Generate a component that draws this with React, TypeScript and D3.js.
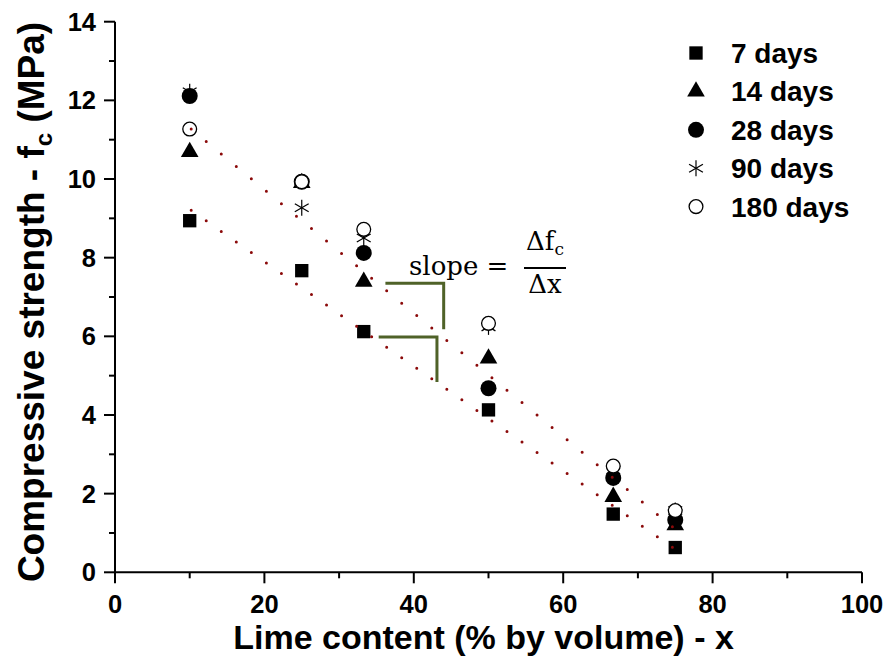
import React from "react";
import * as d3 from "d3";

// ---- data ----
const limeContent = [10, 25, 33.3, 50, 66.7, 75];
const days7 = [8.94, 7.67, 6.12, 4.13, 1.48, 0.63];
const days14 = [10.69, 9.9, 7.39, 5.44, 1.92, 1.2];
const days28 = [12.11, 9.93, 8.12, 4.68, 2.4, 1.33];
const days90 = [12.22, 9.27, 8.5, 6.24, 2.6, 1.57];
const days180 = [11.27, 9.93, 8.72, 6.33, 2.7, 1.57];
const seriesLabels = ["7 days", "14 days", "28 days", "90 days", "180 days"];
const seriesKinds = ["square", "triangle", "circle", "asterisk", "open"];
const xTicks = [0, 20, 40, 60, 80, 100];
const xMinor = [10, 30, 50, 70, 90];
const yTicks = [0, 2, 4, 6, 8, 10, 12, 14];
const yMinor = [1, 3, 5, 7, 9, 11, 13];
// dotted fit lines: lower (7 days) and upper
const trendIntercepts = [10.56, 12.87];
const trendSlopes = [-0.133, -0.157];
const trendFrom = 10.2;
const trendTo = 75;
// slope brackets: [x1, x2, yTop, yBottom]
const brackets = [
  [36.2, 44.0, 7.35, 6.18],
  [35.3, 43.1, 5.98, 4.84],
];

const W = 887;
const H = 656;
const x = d3.scaleLinear().domain([0, 100]).range([115, 862]);
const y = d3.scaleLinear().domain([0, 14]).range([572.3, 21.7]);

const FONT = "'Liberation Sans', Arial, sans-serif";
const SERIF = "'DejaVu Serif', 'Liberation Serif', serif";

function Marker({ kind, cx, cy }: { kind: string; cx: number; cy: number }) {
  const t = `translate(${cx},${cy})`;
  if (kind === "square") {
    return <path transform={t} d={d3.symbol(d3.symbolSquare, 178)()!} fill="#000" />;
  }
  if (kind === "triangle") {
    return <path transform={t} d={d3.symbol(d3.symbolTriangle, 135)()!} fill="#000" />;
  }
  if (kind === "circle") {
    return <circle cx={cx} cy={cy} r={8} fill="#000" />;
  }
  if (kind === "open") {
    return <circle cx={cx} cy={cy} r={6.9} fill="#fff" stroke="#000" strokeWidth={1.3} />;
  }
  // asterisk: 6 arms
  const r = 8;
  const angles = [90, 30, -30];
  return (
    <g transform={t} stroke="#000" strokeWidth={1.2}>
      {angles.map((a) => {
        const rad = (a * Math.PI) / 180;
        const dx = r * Math.cos(rad);
        const dy = r * Math.sin(rad);
        return <line key={a} x1={-dx} y1={-dy} x2={dx} y2={dy} />;
      })}
    </g>
  );
}

export default function App() {
  const series = [days7, days14, days28, days90, days180];
  const dotGapData = 2.013;

  return (
    <div style={{ position: "absolute", left: 0, top: 0 }}>
      <svg width={W} height={H} style={{ display: "block", background: "#fff" }}>
        {/* axes */}
        <g stroke="#000" strokeWidth={2}>
          <line x1={x(0)} x2={x(0)} y1={y(14)} y2={y(0)} />
          <line x1={x(0)} x2={x(100)} y1={y(0)} y2={y(0)} />
          {xTicks.map((t) => (
            <line key={"xt" + t} x1={x(t)} x2={x(t)} y1={y(0)} y2={y(0) + 11} />
          ))}
          {xMinor.map((t) => (
            <line key={"xm" + t} x1={x(t)} x2={x(t)} y1={y(0)} y2={y(0) + 6} />
          ))}
          {yTicks.map((t) => (
            <line key={"yt" + t} x1={x(0) - 11} x2={x(0)} y1={y(t)} y2={y(t)} />
          ))}
          {yMinor.map((t) => (
            <line key={"ym" + t} x1={x(0) - 6} x2={x(0)} y1={y(t)} y2={y(t)} />
          ))}
        </g>
        <g fontFamily={FONT} fontWeight="bold" fontSize={25.5} fill="#000">
          {xTicks.map((t) => (
            <text key={"xl" + t} x={x(t)} y={613} textAnchor="middle">
              {t}
            </text>
          ))}
          {yTicks.map((t) => (
            <text key={"yl" + t} x={96} y={y(t) + 9} textAnchor="end">
              {t}
            </text>
          ))}
        </g>
        {/* axis titles */}
        <text
          x={(x(0) + x(100)) / 2 - 5}
          y={649}
          textAnchor="middle"
          fontFamily={FONT}
          fontWeight="bold"
          fontSize={34}
        >
          Lime content (% by volume) - x
        </text>
        <text
          transform={`translate(44,${(y(0) + y(14)) / 2 + 5}) rotate(-90)`}
          textAnchor="middle"
          fontFamily={FONT}
          fontWeight="bold"
          fontSize={37}
        >
          Compressive strength - f
          <tspan fontSize={24} dy={8}>c</tspan>
          <tspan dy={-8}> (MPa)</tspan>
        </text>

        {/* markers */}
        {series.map((vals, si) => (
          <g key={"s" + si}>
            {vals.map((v, i) => (
              <Marker key={i} kind={seriesKinds[si]} cx={x(limeContent[i])} cy={y(v)} />
            ))}
          </g>
        ))}

        {/* dotted fit lines */}
        {trendIntercepts.map((b, i) => {
          const m = trendSlopes[i];
          const x1 = x(trendFrom);
          const y1 = y(b + m * trendFrom);
          const x2 = x(trendTo);
          const y2 = y(b + m * trendTo);
          const sx = x(trendFrom + dotGapData) - x(trendFrom);
          const sy = y(b + m * (trendFrom + dotGapData)) - y1;
          const step = Math.sqrt(sx * sx + sy * sy);
          return (
            <line
              key={"tr" + i}
              x1={x1}
              y1={y1}
              x2={x2}
              y2={y2}
              stroke="#8b0a0a"
              strokeWidth={3}
              strokeLinecap="round"
              strokeDasharray={`0 ${step}`}
            />
          );
        })}

        {/* slope brackets */}
        {brackets.map((br, i) => (
          <path
            key={"br" + i}
            d={`M${x(br[0])},${y(br[2])}H${x(br[1])}V${y(br[3])}`}
            fill="none"
            stroke="#4F6228"
            strokeWidth={3}
          />
        ))}

        {/* slope formula */}
        <g fontFamily={SERIF} fontSize={26} fill="#000">
          <text x={409} y={275}>slope =</text>
          <text x={545} y={250} textAnchor="middle">
            Δf<tspan fontSize={17} dy={5}>c</tspan>
          </text>
          <line x1={524} x2={566} y1={268} y2={268} stroke="#000" strokeWidth={2} />
          <text x={545} y={293} textAnchor="middle">Δx</text>
        </g>

        {/* legend */}
        <g fontFamily={FONT} fontWeight="bold" fontSize={28}>
          {seriesLabels.map((lab, i) => {
            const cy = 53 + i * 38.4;
            return (
              <g key={"lg" + i}>
                <Marker kind={seriesKinds[i]} cx={696} cy={cy} />
                <text x={731} y={cy + 10}>
                  {lab}
                </text>
              </g>
            );
          })}
        </g>
      </svg>
    </div>
  );
}
